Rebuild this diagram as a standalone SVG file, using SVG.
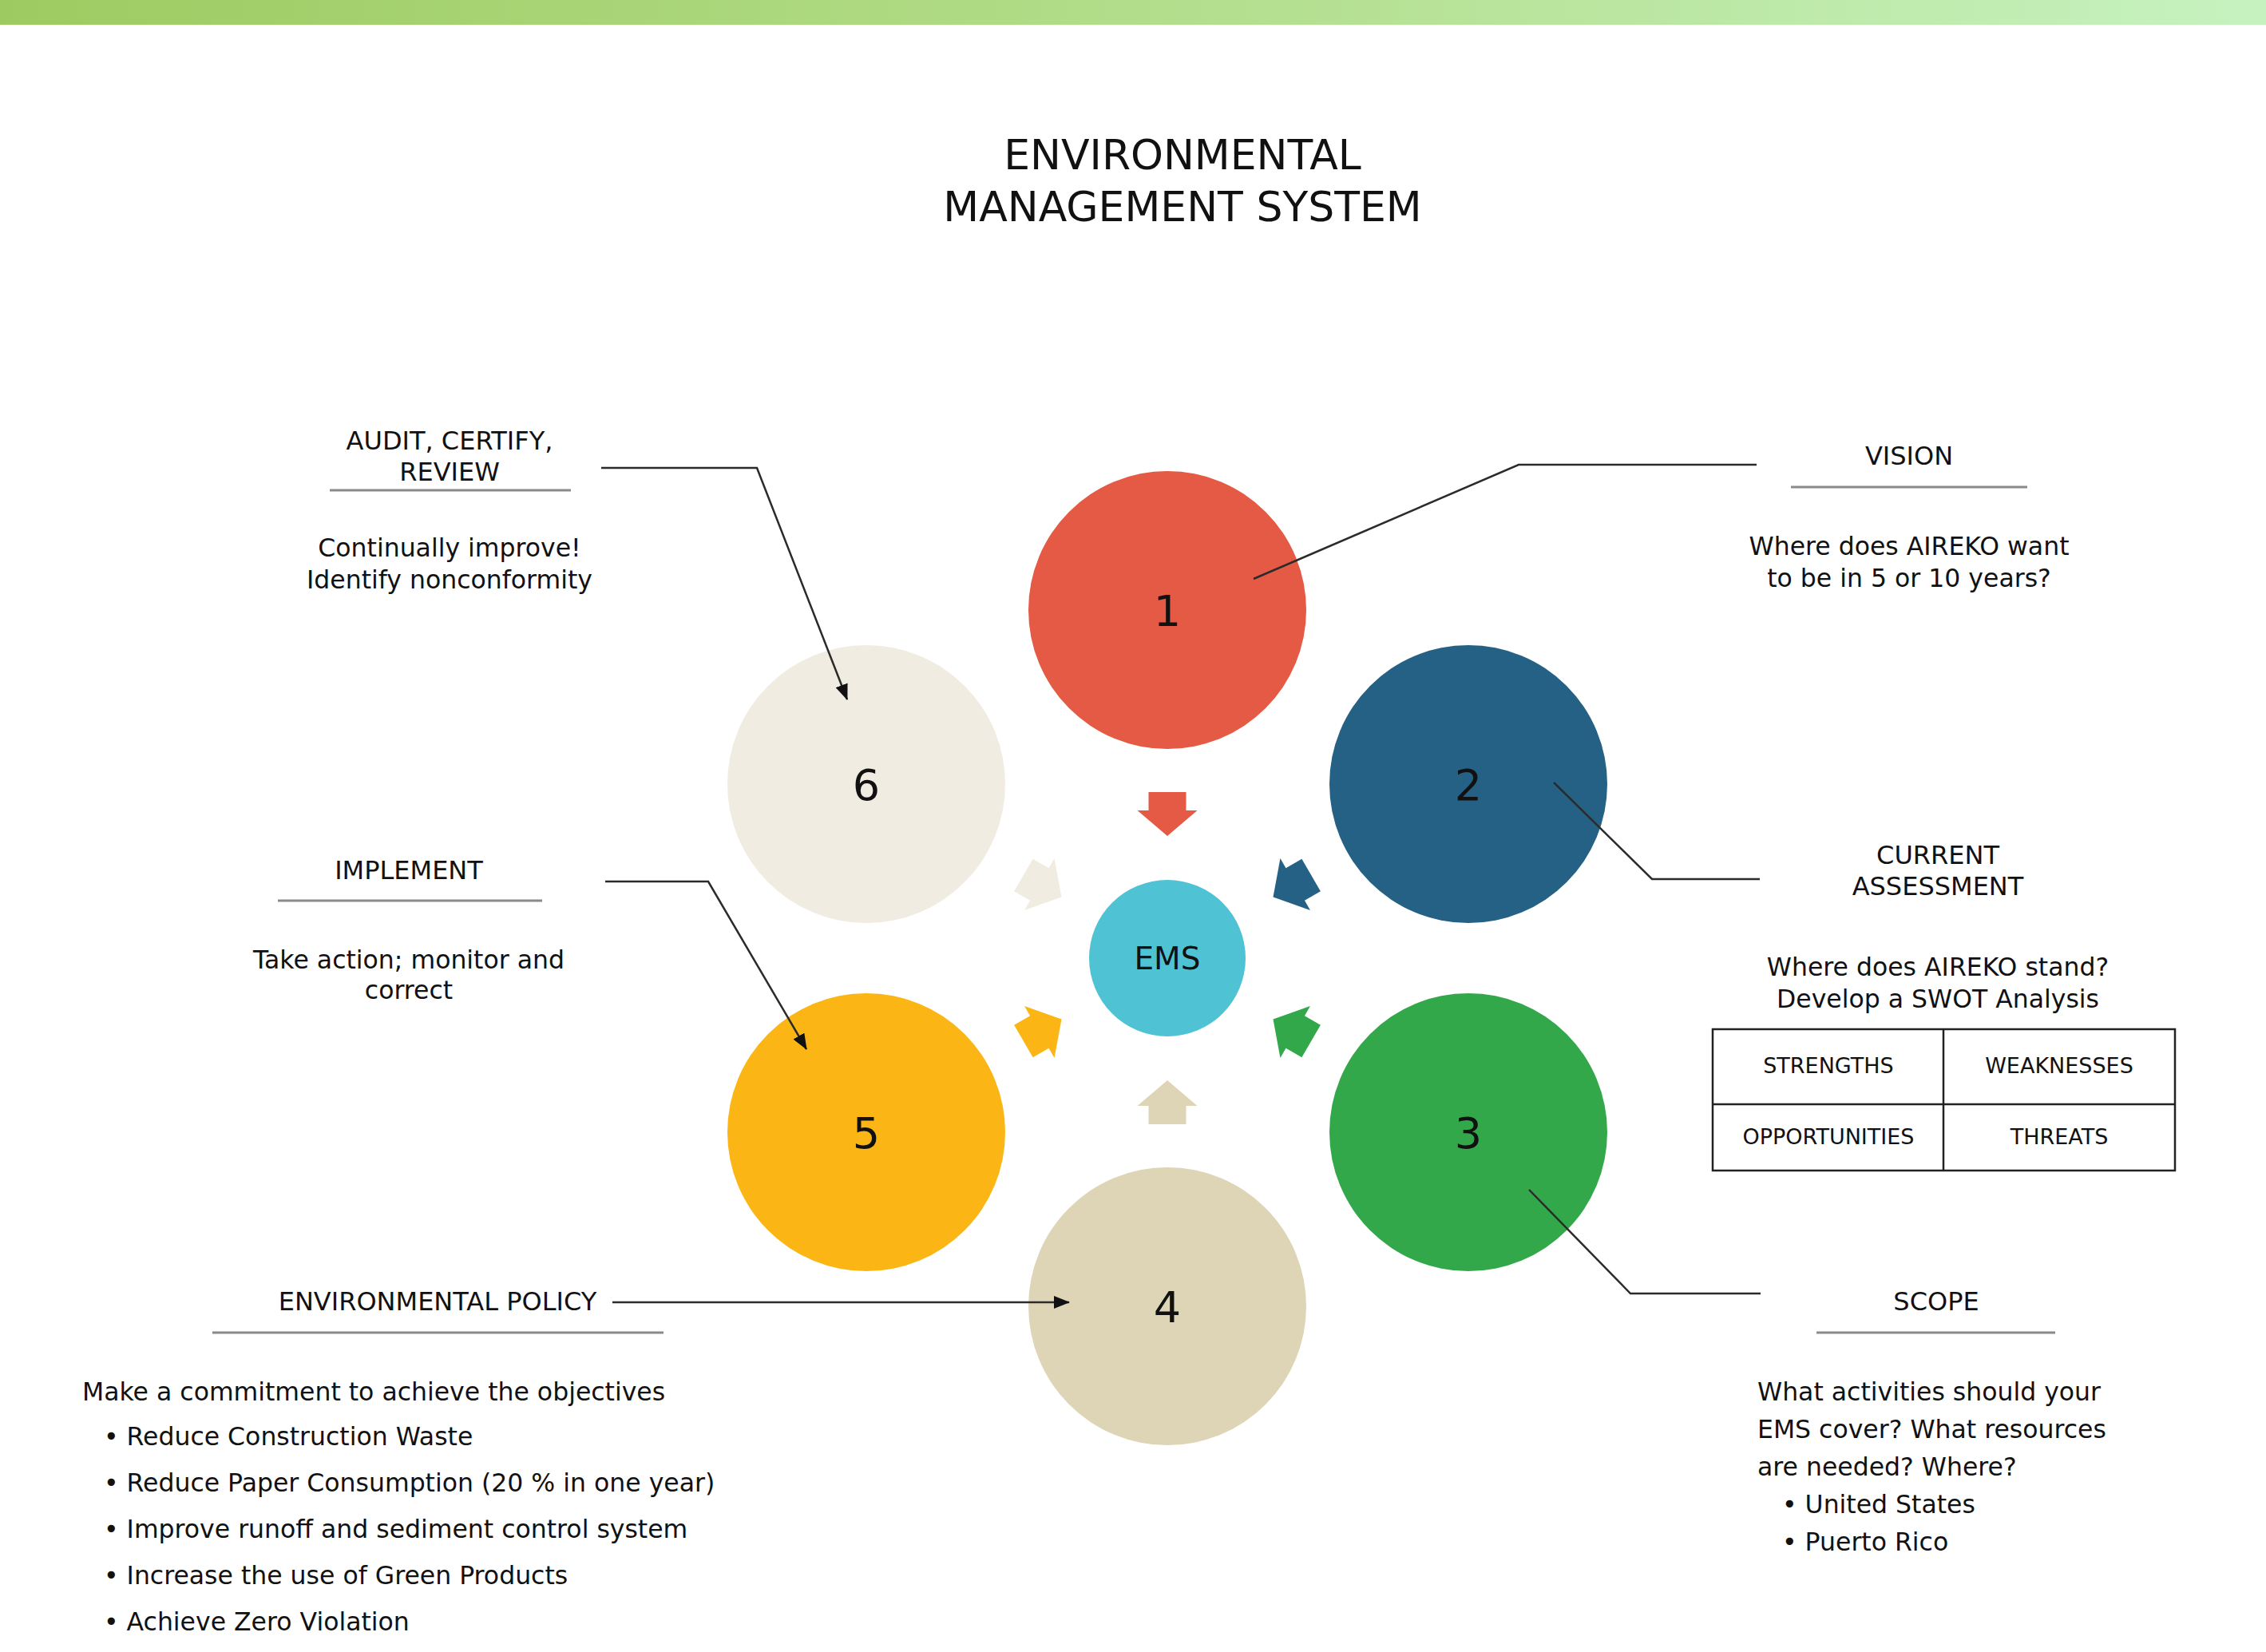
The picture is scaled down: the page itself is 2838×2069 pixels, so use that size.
<svg xmlns="http://www.w3.org/2000/svg" width="2838" height="2069" viewBox="0 0 2838 2069">
  <style>
    text { font-family: "DejaVu Sans", Verdana, sans-serif; fill: #111; }
    .title { font-size: 52px; text-anchor: middle; }
    .lbl { font-size: 32px; text-anchor: middle; }
    .body { font-size: 31.5px; text-anchor: middle; }
    .left { font-size: 31.5px; text-anchor: start; }
    .num { font-size: 54px; text-anchor: middle; }
    .swot { font-size: 27px; text-anchor: middle; }
    .rule { stroke: #8a8a8a; stroke-width: 3; fill: none; }
    .lead { stroke: #2b2b2b; stroke-width: 2.5; fill: none; }
    .cell { stroke: #222; stroke-width: 2.5; fill: #fff; }
  </style>
  <defs>
    <linearGradient id="band" x1="0" y1="0" x2="1" y2="0">
      <stop offset="0" stop-color="#9ecb61"/>
      <stop offset="0.5" stop-color="#b2dd8a"/>
      <stop offset="1" stop-color="#c6f2c0"/>
    </linearGradient>
    <marker id="tip" viewBox="0 0 20 16" refX="19" refY="8" markerWidth="20" markerHeight="16" markerUnits="userSpaceOnUse" orient="auto">
      <path d="M0,0 L20,8 L0,16 Z" fill="#111"/>
    </marker>
    <!-- block arrow pointing down toward the hub, drawn above the hub centre -->
    <path id="blk" d="M-23.5,-208 L23.5,-208 L23.5,-185 L37.5,-185 L0,-153 L-37.5,-185 L-23.5,-185 Z"/>
  </defs>

  <rect x="0" y="0" width="2838" height="31" fill="url(#band)"/>

  <g id="title">
    <text class="title" x="1481" y="212">ENVIRONMENTAL</text>
    <text class="title" x="1481" y="277">MANAGEMENT SYSTEM</text>
  </g>

  <!-- inward arrows around the hub -->
  <g id="hub-arrows" transform="translate(1462,1200)">
    <use href="#blk" fill="#e55a45"/>
    <use href="#blk" fill="#256185" transform="rotate(60)"/>
    <use href="#blk" fill="#33a84a" transform="rotate(120)"/>
    <use href="#blk" fill="#ded5b7" transform="rotate(180)"/>
    <use href="#blk" fill="#fbb515" transform="rotate(240)"/>
    <use href="#blk" fill="#f1ece1" transform="rotate(300)"/>
  </g>

  <g id="node-1">
    <circle cx="1462" cy="764" r="174" fill="#e55a45"/>
    <text class="num" x="1462" y="784">1</text>
  </g>
  <g id="node-2">
    <circle cx="1839" cy="982" r="174" fill="#256185"/>
    <text class="num" x="1839" y="1002">2</text>
  </g>
  <g id="node-3">
    <circle cx="1839" cy="1418" r="174" fill="#33a84a"/>
    <text class="num" x="1839" y="1438">3</text>
  </g>
  <g id="node-4">
    <circle cx="1462" cy="1636" r="174" fill="#ded5b7"/>
    <text class="num" x="1462" y="1656">4</text>
  </g>
  <g id="node-5">
    <circle cx="1085" cy="1418" r="174" fill="#fbb515"/>
    <text class="num" x="1085" y="1438">5</text>
  </g>
  <g id="node-6">
    <circle cx="1085" cy="982" r="174" fill="#f1ece1"/>
    <text class="num" x="1085" y="1002">6</text>
  </g>
  <g id="node-ems">
    <circle cx="1462" cy="1200" r="98" fill="#4fc3d4"/>
    <text x="1462" y="1214" style="font-size:39px;text-anchor:middle">EMS</text>
  </g>

  <!-- leader lines, drawn over the circles -->
  <g id="connectors">
    <polyline class="lead" points="1570,725 1902,582 2200,582"/>
    <polyline class="lead" points="1946,980 2069,1101 2204,1101"/>
    <polyline class="lead" points="1915,1490 2042,1620 2205,1620"/>
    <polyline class="lead" points="767,1631 1339,1631" marker-end="url(#tip)"/>
    <polyline class="lead" points="758,1104 887,1104 1010,1314" marker-end="url(#tip)"/>
    <polyline class="lead" points="753,586 948,586 1061,876" marker-end="url(#tip)"/>
  </g>

  <g id="vision">
    <text class="lbl" x="2391" y="582">VISION</text>
    <line class="rule" x1="2243" y1="610" x2="2539" y2="610"/>
    <text class="body" x="2391" y="695">Where does AIREKO want</text>
    <text class="body" x="2391" y="735">to be in 5 or 10 years?</text>
  </g>

  <g id="assessment">
    <text class="lbl" x="2427" y="1082">CURRENT</text>
    <text class="lbl" x="2427" y="1121">ASSESSMENT</text>
    <text class="body" x="2427" y="1222">Where does AIREKO stand?</text>
    <text class="body" x="2427" y="1262">Develop a SWOT Analysis</text>
  </g>

  <g id="swot">
    <rect class="cell" x="2145" y="1289" width="579" height="177"/>
    <line class="cell" x1="2434" y1="1289" x2="2434" y2="1466"/>
    <line class="cell" x1="2145" y1="1383" x2="2724" y2="1383"/>
    <text class="swot" x="2290" y="1344">STRENGTHS</text>
    <text class="swot" x="2579" y="1344">WEAKNESSES</text>
    <text class="swot" x="2290" y="1433">OPPORTUNITIES</text>
    <text class="swot" x="2579" y="1433">THREATS</text>
  </g>

  <g id="scope">
    <text class="lbl" x="2425" y="1641">SCOPE</text>
    <line class="rule" x1="2275" y1="1669" x2="2574" y2="1669"/>
    <text class="left" x="2201" y="1754">What activities should your</text>
    <text class="left" x="2201" y="1801">EMS cover? What resources</text>
    <text class="left" x="2201" y="1848">are needed? Where?</text>
    <text class="left" x="2232" y="1895">• United States</text>
    <text class="left" x="2232" y="1942">• Puerto Rico</text>
  </g>

  <g id="policy">
    <text class="lbl" x="548" y="1641">ENVIRONMENTAL POLICY</text>
    <line class="rule" x1="266" y1="1669" x2="831" y2="1669"/>
    <text class="left" x="103" y="1754">Make a commitment to achieve the objectives</text>
    <text class="left" x="130" y="1810">• Reduce Construction Waste</text>
    <text class="left" x="130" y="1868">• Reduce Paper Consumption (20 % in one year)</text>
    <text class="left" x="130" y="1926">• Improve runoff and sediment control system</text>
    <text class="left" x="130" y="1984">• Increase the use of Green Products</text>
    <text class="left" x="130" y="2042">• Achieve Zero Violation</text>
  </g>

  <g id="implement">
    <text class="lbl" x="512" y="1101">IMPLEMENT</text>
    <line class="rule" x1="348" y1="1128" x2="679" y2="1128"/>
    <text class="body" x="512" y="1213">Take action; monitor and</text>
    <text class="body" x="512" y="1251">correct</text>
  </g>

  <g id="audit">
    <text class="lbl" x="563" y="563">AUDIT, CERTIFY,</text>
    <text class="lbl" x="563" y="602">REVIEW</text>
    <line class="rule" x1="413" y1="614" x2="715" y2="614"/>
    <text class="body" x="563" y="697">Continually improve!</text>
    <text class="body" x="563" y="737">Identify nonconformity</text>
  </g>
</svg>
